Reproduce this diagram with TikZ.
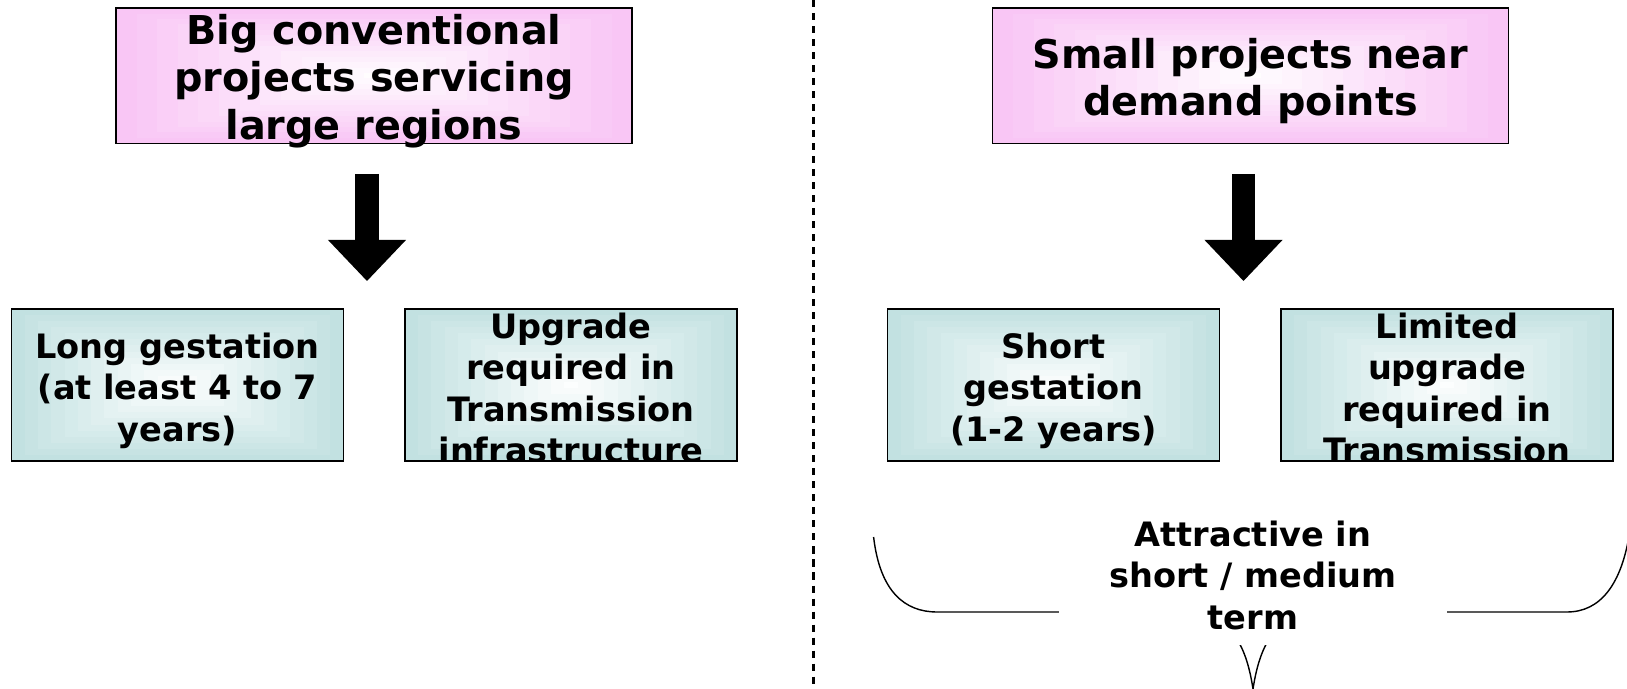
\documentclass[tikz,border=0pt]{standalone}
\usepackage{fontspec}
\setmainfont{DejaVu Sans}
\usetikzlibrary{arrows.meta,calc,positioning}

\definecolor{pinkedge}{HTML}{F9C6F5}
\definecolor{tealedge}{HTML}{C2E1E1}

\tikzset{
  glow/.style={path picture={
      \foreach \k [evaluate=\k as \f using \k/25, evaluate=\k as \p using 100-8*\k] in {0,...,12}
        \fill[#1!\p!white] ($(path picture bounding box.south west)!\f!(path picture bounding box.north east)$)
          rectangle ($(path picture bounding box.north east)!\f!(path picture bounding box.south west)$);
    }},
  bigbox/.style={draw, line width=0.4pt, glow=pinkedge, minimum width=5.16cm, minimum height=1.35cm,
    inner sep=0pt},
  bigtext/.style={align=center, inner sep=0pt, yshift=-0.055cm, font=\fontsize{11.3}{13.4}\selectfont\bfseries},
  smallbox/.style={draw, line width=0.4pt, glow=tealedge, minimum width=3.32cm, minimum height=1.52cm,
    inner sep=0pt},
  smalltext/.style={align=center, inner sep=0pt, font=\fontsize{9.55}{11.8}\selectfont\bfseries},
  blockarrow/.style={line width=0.23cm, shorten <=0.3cm, shorten >=0.28cm,
    -{Triangle[width=0.78cm,length=0.41cm,line width=0pt]}},
}

\begin{document}
\begin{tikzpicture}[x=0.01cm, y=-0.01cm]

        \useasboundingbox (0,0) rectangle (1627,689);

        %===========================
        % Divider
        %===========================
        \draw[line width=0.7pt, dash pattern=on 2pt off 1.7pt] (813.5,0) -- (813.5,689);

        %===========================
        % Left side
        %===========================
        \node (P1) at (374,75.7) [bigbox] {};
        \node (P1t) at (P1) [bigtext] {Big conventional\\projects servicing\\large regions};

        \node (L1) at (177.5,385) [smallbox] {};
        \node (L1t) at (L1) [smalltext, yshift=-0.055cm] {Long gestation\\(at least 4 to 7\\years)};

        \node (L2) at (571,385) [smallbox] {};
        \begin{scope}
          \clip (L2.south west) rectangle (L2.north east);
          \node (L2t) at (L2) [smalltext, yshift=-0.028cm] {Upgrade\\required in\\Transmission\\infrastructure};
        \end{scope}

        \coordinate (J1) at (367,309);
        \draw[blockarrow] (P1.south -| J1) -- (J1);

        %===========================
        % Right side
        %===========================
        \node (P2) at (1250.5,75.7) [bigbox] {};
        \node (P2t) at (P2) [bigtext] {Small projects near\\demand points};

        \node (R1) at (1053.5,385) [smallbox] {};
        \node (R1t) at (R1) [smalltext, yshift=-0.055cm] {Short\\gestation\\(1-2 years)};

        \node (R2) at (1447,385) [smallbox] {};
        \begin{scope}
          \clip (R2.south west) rectangle (R2.north east);
          \node (R2t) at (R2) [smalltext, yshift=-0.028cm] {Limited\\upgrade\\required in\\Transmission};
        \end{scope}

        \coordinate (J2) at (1243.5,309);
        \draw[blockarrow] (P2.south -| J2) -- (J2);

        % Brace under the right side
        \draw[line width=0.4pt] (873.6,537) .. controls (880,592) and (905,612) .. (937,612)
          -- (1185,612) .. controls (1233,612) and (1247,650) .. (1253,689)
          .. controls (1259,650) and (1273,612) .. (1321,612)
          -- (1567,612) .. controls (1600,612) and (1622,585) .. (1630,530);
        \node (T) at (1253,575) [smalltext, fill=white, minimum width=3.88cm, minimum height=1.4cm]
          {Attractive in\\short / medium\\term};

\end{tikzpicture}
\end{document}
